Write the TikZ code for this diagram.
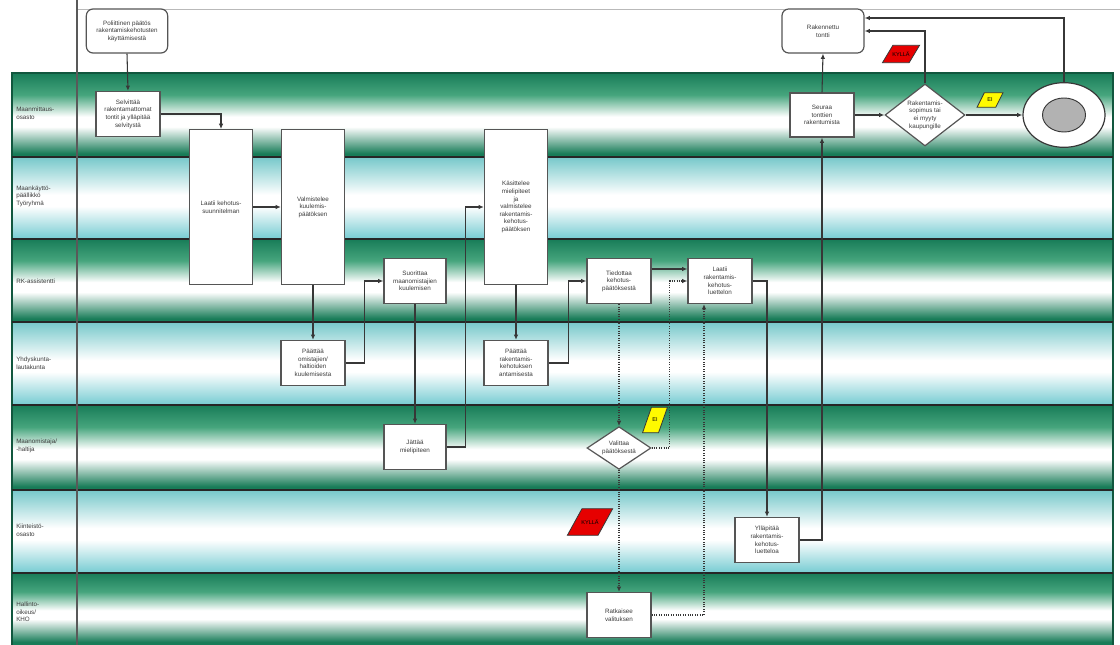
\documentclass[tikz,border=0pt]{standalone}
\usepackage{fontspec}
\setmainfont{Liberation Sans}
\usetikzlibrary{shapes.geometric,arrows.meta,calc}
\definecolor{gD}{RGB}{24,124,88}
\definecolor{gM}{RGB}{70,165,125}
\definecolor{cT}{RGB}{118,200,202}
\definecolor{cB}{RGB}{124,206,212}
\definecolor{lineC}{RGB}{55,55,55}
\definecolor{boxC}{RGB}{85,85,85}
\definecolor{txtC}{RGB}{60,60,60}
\definecolor{kylla}{RGB}{230,0,0}
\definecolor{ei}{RGB}{255,250,0}
\pgfdeclareverticalshading{greenlane}{100bp}{color(0bp)=(gD); color(27bp)=(gD); color(43bp)=(white); color(49bp)=(white); color(62bp)=(gM); color(75bp)=(gD); color(100bp)=(gD)}
\pgfdeclareverticalshading{cyanlane}{100bp}{color(0bp)=(cB); color(26bp)=(cB); color(45bp)=(white); color(52bp)=(white); color(75bp)=(cT); color(100bp)=(cT)}
\begin{document}
\begin{tikzpicture}[x=0.75pt,y=-0.75pt,
  font=\fontsize{4.7}{5.7}\selectfont,
  box/.style={draw=boxC,line width=0.9pt,fill=white,align=center,text=txtC,inner sep=1pt,minimum width=48pt,minimum height=33.75pt},
  tallbox/.style={box,minimum width=47.25pt,minimum height=116pt},
  rbox/.style={box,rounded corners=5pt,minimum width=61pt,minimum height=33pt},
  dia/.style={draw=boxC,line width=0.9pt,fill=white,diamond,inner sep=0pt},
  txt/.style={align=center,text=txtC,inner sep=0pt},
  lanelbl/.style={align=left,text=txtC,anchor=west,inner sep=0pt},
  flag/.style={draw=lineC,line width=0.6pt,inner sep=0pt,transform shape},
  flagtxt/.style={inner sep=0pt,text=black,font=\fontsize{4.2}{4.6}\selectfont},
  arr/.style={draw=lineC,line width=0.8pt,-{Latex[length=4pt,width=3.4pt]}},
  darr/.style={arr,densely dotted}]
\useasboundingbox (0,0) rectangle (1120,645);
\fill[white] (0,0) rectangle (1120,645);
% lanes
\foreach \t/\b/\s in {73/157/greenlane,157/239/cyanlane,239/322/greenlane,322/405/cyanlane,405/490/greenlane,490/573/cyanlane,573/645/greenlane}{
  \shade[shading=\s] (12,\t) rectangle (1113,\b);
}
\draw[gD!70!black,line width=0.8pt] (12,645) -- (12,73) -- (1113,73) -- (1113,645);
\foreach \y in {157,239,322,405,490,573}{
  \draw[black!85,line width=1.5pt] (12,\y) -- (1113,\y);
}
\draw[gray!55,line width=0.6pt] (77,9) -- (1120,9);
\draw[gray!70!black,line width=1.1pt] (77,0) -- (77,645);
% lane labels
\node[lanelbl] (l1) at (16,113) {Maanmittaus-\\osasto};
\node[lanelbl] (l2) at (16,196) {Maankäyttö-\\päällikkö\\Työryhmä};
\node[lanelbl] (l3) at (16,281) {RK-assistentti};
\node[lanelbl] (l4) at (16,363) {Yhdyskunta-\\lautakunta};
\node[lanelbl] (l5) at (16,446) {Maanomistaja/\\-haltija};
\node[lanelbl] (l6) at (16,530) {Kiinteistö-\\osasto};
\node[lanelbl] (l7) at (16,612) {Hallinto-\\oikeus/\\KHO};
% nodes
\node[rbox] (start) at (127,31) {Poliittinen päätös\\rakentamiskehotusten\\käyttämisestä};
\node[box] (s1) at (128,114) {Selvittää\\rakentamattomat\\tontit ja ylläpitää\\selvitystä};
\node[tallbox] (b3) at (221,207) {Laatii kehotus-\\suunnitelman};
\node[tallbox] (b4) at (313,207) {Valmistelee\\kuulemis-\\päätöksen};
\node[box,minimum width=46.5pt] (b5) at (415,281) {Suorittaa\\maanomistajien\\kuulemisen};
\node[box] (b6) at (313,363) {Päättää\\omistajien/\\haltioiden\\kuulemisesta};
\node[box,minimum width=46.5pt] (b7) at (415,447) {Jättää\\mielipiteen};
\node[tallbox] (b8) at (516,207) {Käsittelee\\mielipiteet\\ja\\valmistelee\\rakentamis-\\kehotus-\\päätöksen};
\node[box] (b9) at (516,363) {Päättää\\rakentamis-\\kehotuksen\\antamisesta};
\node[box] (b10) at (619,281) {Tiedottaa\\kehotus-\\päätöksestä};
\node[box] (b11) at (720,281) {Laatii\\rakentamis-\\kehotus-\\luettelon};
\node[dia,minimum width=48pt,minimum height=32pt] (v) at (619,448) {};
\node[txt] (vt) at (v) {Valittaa\\päätöksestä};
\node[box] (r) at (619,615) {Ratkaisee\\valituksen};
\node[box] (b13) at (767,540) {Ylläpitää\\rakentamis-\\kehotus-\\luetteloa};
\node[box,minimum height=33pt] (b14) at (822,115) {Seuraa\\tonttien\\rakentumista};
\node[rbox,minimum width=61.5pt] (t) at (823,31) {Rakennettu\\tontti};
\node[dia,minimum width=60pt,minimum height=46.5pt] (d) at (925,115) {};
\node[txt] (dt) at (d) {Rakentamis-\\sopimus tai\\ei myyty\\kaupungille};
\node[draw=lineC,line width=0.9pt,fill=white,ellipse,minimum width=61.5pt,minimum height=48.5pt,inner sep=0pt] (ee) at (1064,115) {};
\node[draw=lineC,line width=0.7pt,fill=gray!60,ellipse,minimum width=32.25pt,minimum height=25.5pt,inner sep=0pt] (eei) at (ee) {};
% flags (parallelograms)
\begin{scope}[shift={(901,54)},xslant=0.6]
\node[flag,fill=kylla,minimum width=20pt,minimum height=13pt] (k1) at (0,0) {};
\end{scope}
\node[flagtxt] (k1t) at (901,54) {KYLLÄ};
\begin{scope}[shift={(990,100)},xslant=0.5]
\node[flag,fill=ei,minimum width=14pt,minimum height=11pt] (e1) at (0,0) {};
\end{scope}
\node[flagtxt] (e1t) at (990,100) {EI};
\begin{scope}[shift={(655,420)},xslant=0.35]
\node[flag,fill=ei,minimum width=12pt,minimum height=19pt] (e2) at (0,0) {};
\end{scope}
\node[flagtxt] (e2t) at (655,420) {EI};
\begin{scope}[shift={(590,522)},xslant=0.55]
\node[flag,fill=kylla,minimum width=23pt,minimum height=20pt] (k2) at (0,0) {};
\end{scope}
\node[flagtxt] (k2t) at (590,522) {KYLLÄ};
% connectors
\draw[arr] (start.south) -- (s1.north);
\draw[arr] (s1.east) -| (b3.north);
\draw[arr] (b3.east) -- (b4.west);
\draw[arr] (b4.south) -- (b6.north);
\draw[arr] (b6.east) -- ++(19,0) |- (b5.west);
\draw[arr] (b5.south) -- (b7.north);
\draw[arr] (b7.east) -- ++(19,0) |- (b8.west);
\draw[arr] (b8.south) -- (b9.north);
\draw[arr] (b9.east) -- ++(20,0) |- (b10.west);
\draw[arr] ([yshift=9pt]b10.east) -- ([yshift=9pt]b11.west);
\draw[darr] (b10.south) -- (v.north);
\draw[darr] (v.east) -- ++(18,0) |- (b11.west);
\draw[darr] (v.south) -- (r.north);
\draw[darr] (r.east) -| ([xshift=-12pt]b11.south);
\draw[arr] (b11.east) -| (b13.north);
\draw[arr] (b13.east) -| (b14.south);
\draw[arr] (b14.north) -- (t.south);
\draw[arr] (b14.east) -- (d.west);
\draw[arr] (d.north) |- (t.east);
\draw[arr] (d.east) -- (ee.west);
\draw[arr] (ee.north) |- ([yshift=9.75pt]t.east);
\end{tikzpicture}
\end{document}
